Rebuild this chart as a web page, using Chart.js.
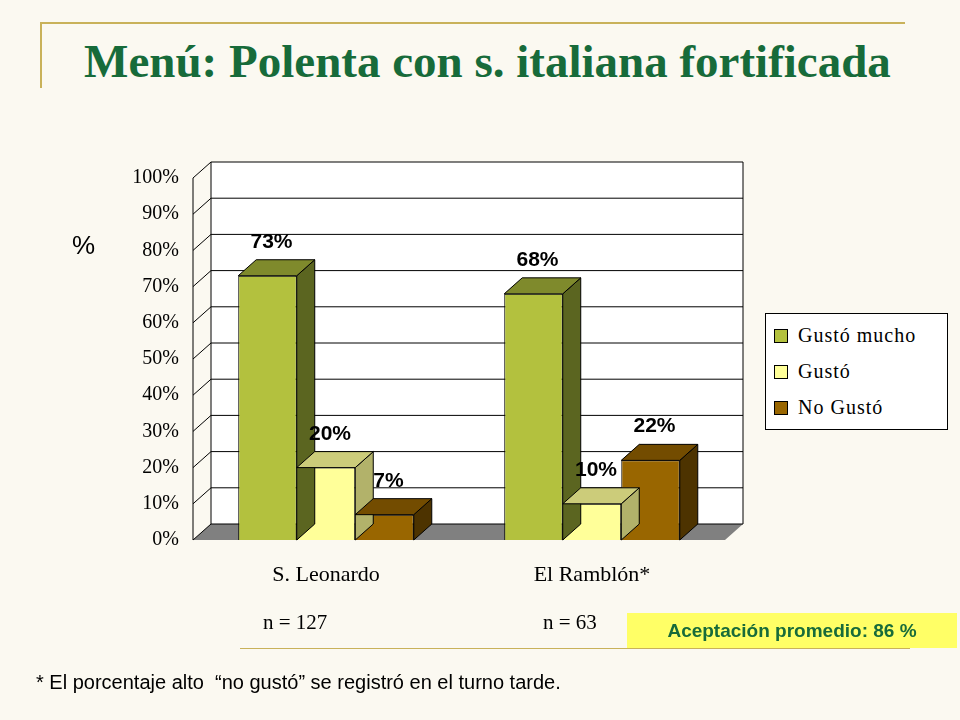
<!DOCTYPE html>
<html><head><meta charset="utf-8">
<script src="https://cdn.jsdelivr.net/npm/chart.js@4"></script>
<style>
body{margin:0;width:960px;height:720px;position:relative;background:#fbf9f1;overflow:hidden;font-family:"Liberation Serif",serif}
#c{position:absolute;left:0;top:0}
.t{position:absolute;left:0;width:975px;top:34px;text-align:center;color:#176b3a;font:bold 47px "Liberation Serif",serif}
.hl{position:absolute;left:40px;top:22px;width:865px;height:2px;background:#c9b25a}
.vl{position:absolute;left:40px;top:22px;width:2px;height:66px;background:#c9b25a}
.pct{position:absolute;left:72px;top:230px;font:26px "Liberation Sans",sans-serif}
.lg{position:absolute;left:765px;top:313px;width:181px;height:115px;border:1.5px solid #000;background:#fff;font:20px "Liberation Serif",serif;letter-spacing:1px}
.lg div{position:absolute;left:8px;display:flex;align-items:center}
.lg span{display:inline-block;width:12px;height:12px;border:1px solid #000;margin-right:10px}
.n{position:absolute;top:610px;font:21px "Liberation Serif",serif}
.ac{position:absolute;left:627px;top:613px;width:330px;height:35px;background:#ffff66;color:#176b3a;font:bold 19px "Liberation Sans",sans-serif;display:flex;align-items:center;justify-content:center}
.fn{position:absolute;left:36px;top:671px;font:20px "Liberation Sans",sans-serif}
.ln{position:absolute;left:240px;top:648px;width:670px;height:1px;background:#c9b25a}
</style></head><body>
<div class="hl"></div><div class="vl"></div>
<div class="t">Menú: Polenta con s. italiana fortificada</div>
<canvas id="c" width="960" height="720"></canvas>
<div class="pct">%</div>
<div class="lg" id="lg"></div>
<div class="n" style="left:263px">n = 127</div>
<div class="n" style="left:543px">n = 63</div>
<div class="ac">Aceptación promedio: 86 %</div>
<div class="ln"></div>
<div class="fn">* El porcentaje alto &nbsp;“no gustó” se registró en el turno tarde.</div>
<script>
const categories = ['S. Leonardo', 'El Ramblón*'];
const seriesNames = ['Gustó mucho', 'Gustó', 'No Gustó'];
const gustoMucho = [73, 68];
const gusto = [20, 10];
const noGusto = [7, 22];
const front = ['#b3c13e', '#ffff99', '#996600'];
const side = ['#5b6520', '#b2b26a', '#4d3300'];
const topc = ['#7f8a2c', '#cccc7a', '#734c00'];
const DX = 18, DY = -16;

const lg = document.getElementById('lg');
seriesNames.forEach((s, i) => {
  const d = document.createElement('div');
  d.style.top = (10 + i * 36) + 'px';
  d.innerHTML = '<span style="background:' + front[i] + '"></span>' + s;
  lg.appendChild(d);
});

const walls = {
  id: 'walls',
  beforeDatasetsDraw(chart) {
    const { ctx, chartArea: a, scales: { y } } = chart;
    ctx.save();
    ctx.fillStyle = '#fff';
    ctx.fillRect(a.left + DX, a.top + DY, a.right - a.left, a.bottom - a.top);
    ctx.fillStyle = '#808080';
    ctx.beginPath();
    ctx.moveTo(a.left, a.bottom); ctx.lineTo(a.left + DX, a.bottom + DY);
    ctx.lineTo(a.right + DX, a.bottom + DY); ctx.lineTo(a.right, a.bottom);
    ctx.closePath(); ctx.fill();
    ctx.strokeStyle = '#000'; ctx.lineWidth = 1;
    y.ticks.forEach(t => {
      const py = y.getPixelForValue(t.value);
      ctx.beginPath();
      ctx.moveTo(a.left, py); ctx.lineTo(a.left + DX, py + DY);
      ctx.lineTo(a.right + DX, py + DY);
      ctx.stroke();
    });
    ctx.beginPath();
    ctx.moveTo(a.left + DX, a.top + DY); ctx.lineTo(a.left + DX, a.bottom + DY);
    ctx.moveTo(a.right + DX, a.top + DY); ctx.lineTo(a.right + DX, a.bottom + DY);
    ctx.moveTo(a.left, a.top); ctx.lineTo(a.left, a.bottom);
    ctx.stroke();
    ctx.restore();
  },
  afterDatasetsDraw(chart) {
    const { ctx } = chart;
    ctx.save();
    ctx.lineWidth = 1; ctx.strokeStyle = '#000';
    chart.data.datasets.forEach((ds, di) => {
      chart.getDatasetMeta(di).data.forEach((b, i) => {
        const l = b.x - b.width / 2, r = b.x + b.width / 2;
        ctx.fillStyle = side[di];
        ctx.beginPath();
        ctx.moveTo(r, b.y); ctx.lineTo(r + DX, b.y + DY); ctx.lineTo(r + DX, b.base + DY); ctx.lineTo(r, b.base);
        ctx.closePath(); ctx.fill(); ctx.stroke();
        ctx.fillStyle = topc[di];
        ctx.beginPath();
        ctx.moveTo(l, b.y); ctx.lineTo(l + DX, b.y + DY); ctx.lineTo(r + DX, b.y + DY); ctx.lineTo(r, b.y);
        ctx.closePath(); ctx.fill(); ctx.stroke();
        ctx.fillStyle = '#000';
        ctx.font = 'bold 21px "Liberation Sans Narrow","Liberation Sans",sans-serif';
        ctx.textAlign = 'center';
        ctx.fillText(ds.data[i] + '%', b.x + DX / 2 - 5, b.y + DY - 12);
      });
    });
    ctx.restore();
  }
};

new Chart(document.getElementById('c'), {
  type: 'bar',
  data: {
    labels: categories,
    datasets: [gustoMucho, gusto, noGusto].map((d, i) => ({
      label: seriesNames[i], data: d, backgroundColor: front[i],
      borderColor: '#000', borderWidth: 1
    }))
  },
  options: {
    responsive: false, animation: false, events: [],
    layout: { padding: { left: 100, top: 178, right: 235, bottom: 120 } },
    categoryPercentage: 0.66, barPercentage: 1,
    plugins: { legend: { display: false }, tooltip: { enabled: false } },
    scales: {
      x: {
        grid: { display: false }, border: { display: false },
        ticks: { color: '#000', padding: 14, font: { family: 'Liberation Serif', size: 22 } },
        afterFit(s) { s.height = 60; }
      },
      y: {
        min: 0, max: 100,
        grid: { display: false }, border: { display: false },
        ticks: { stepSize: 10, color: '#000', padding: 6, callback: v => v + '%', font: { family: 'Liberation Serif', size: 20 } },
        afterFit(s) { s.width = 93; }
      }
    }
  },
  plugins: [walls]
});
</script>
</body></html>
